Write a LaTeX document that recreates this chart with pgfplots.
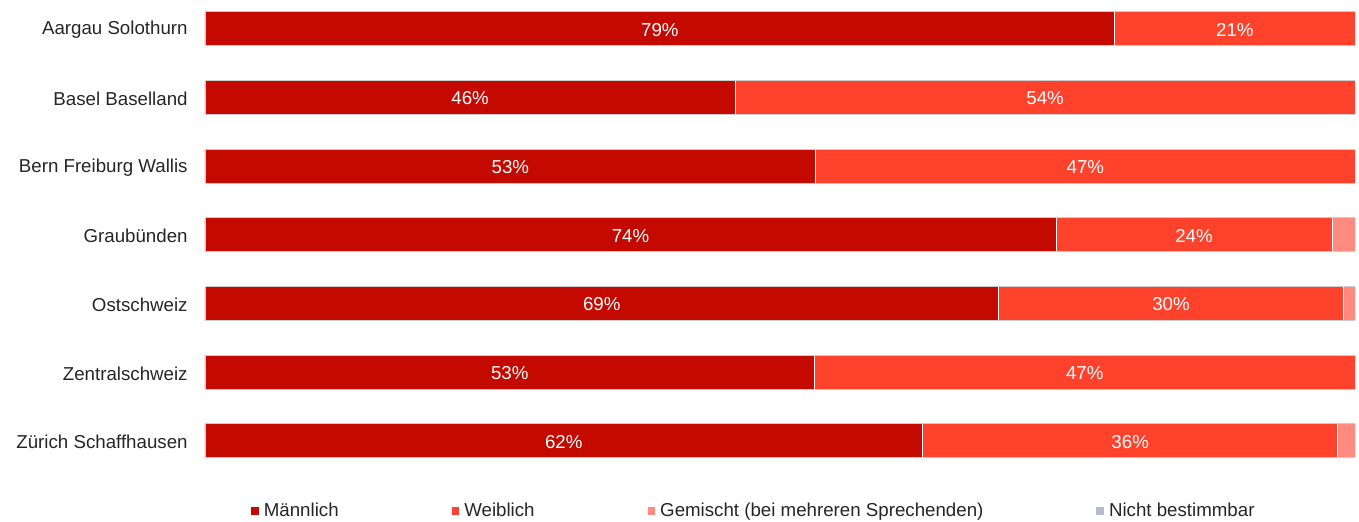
\documentclass[border=0pt]{standalone}
\usepackage{pgfplots}
\pgfplotsset{compat=1.18}
\usepackage{pgfplotstable}
\usepackage{fontspec}
\setmainfont{Liberation Sans}
\definecolor{cM}{HTML}{C40A00}
\definecolor{cW}{HTML}{FF422B}
\definecolor{cG}{HTML}{FF8A80}
\definecolor{cN}{HTML}{B4BCCC}
\definecolor{cO}{HTML}{CCCCCC}
% values in percent; cM, cW = centres of the segments (for the labels)
\pgfplotstableread{
idx M W G N T cM cW
6 79.1 20.9 0 0 100 39.55 89.55
5 46.1 53.9 0 0 100 23.05 73.05
4 53.1 46.9 0 0 100 26.55 76.55
3 74.0 24.0 2.0 0 100 37.0 86.0
2 69.0 30.0 1.0 0 100 34.5 84.0
1 53.0 47.0 0 0 100 26.5 76.5
0 62.4 36.1 1.5 0 100 31.2 80.45
}\datatable
\newcommand{\fs}{\fontsize{9.35}{11}\selectfont}
\pgfplotsset{
  base/.style={scale only axis, width=575pt, height=226.6pt,
    xmin=0, xmax=100, ymin=-0.3, ymax=6.3},
}
\begin{document}
\fs
\begin{tikzpicture}
\useasboundingbox (-102.5pt,-30.2pt) rectangle (577pt,230.8pt);
\begin{axis}[
  base,
  xbar stacked, bar width=17pt,
  axis line style={draw=none},
  xtick=\empty,
  ytick={0,...,6},
  yticklabels={Zürich Schaffhausen, Zentralschweiz, Ostschweiz, Graubünden, Bern Freiburg Wallis, Basel Baselland, Aargau Solothurn},
  ytick style={draw=none},
  yticklabel style={inner sep=0pt, xshift=-8.5pt, yshift=-0.5pt, font=\fs, text=black!85},
  legend columns=4,
  legend style={draw=none, at={(axis description cs:0.039,-0.109)}, anchor=west, font=\fs, inner sep=0pt, text=black!85,
    /tikz/every even column/.append style={column sep=54pt}},
  legend image code/.code={\draw[#1, draw=white!70!#1, line width=0.4pt] (0pt,-2.2pt) rectangle (4.4pt,2.2pt);},
  every axis plot/.append style={draw=white, line width=0.5pt},
]
\addplot[fill=cM] table[x=M, y=idx]{\datatable};
\addplot[fill=cW] table[x=W, y=idx]{\datatable};
\addplot[fill=cG] table[x=G, y=idx]{\datatable};
\addplot[fill=cN] table[x=N, y=idx]{\datatable};
\legend{Männlich, Weiblich, Gemischt (bei mehreren Sprechenden), Nicht bestimmbar}
\end{axis}
\begin{axis}[
  base, xbar, bar width=17pt, hide axis]
\addplot[draw=cO, fill=none, line width=0.5pt] table[x=T, y=idx]{\datatable};
\end{axis}
\begin{axis}[
  base, hide axis,
  /pgf/number format/assume math mode=true,
  every node near coord/.append style={font=\fs, text=white, anchor=center, inner sep=0pt, yshift=-0.3pt},
  nodes near coords={\pgfmathprintnumber[fixed,precision=0]{\pgfplotspointmeta}\%},
  point meta=explicit]
\addplot[only marks, mark=none] table[x=cM, y=idx, meta=M]{\datatable};
\addplot[only marks, mark=none] table[x=cW, y=idx, meta=W]{\datatable};
\end{axis}
\end{tikzpicture}
\end{document}
